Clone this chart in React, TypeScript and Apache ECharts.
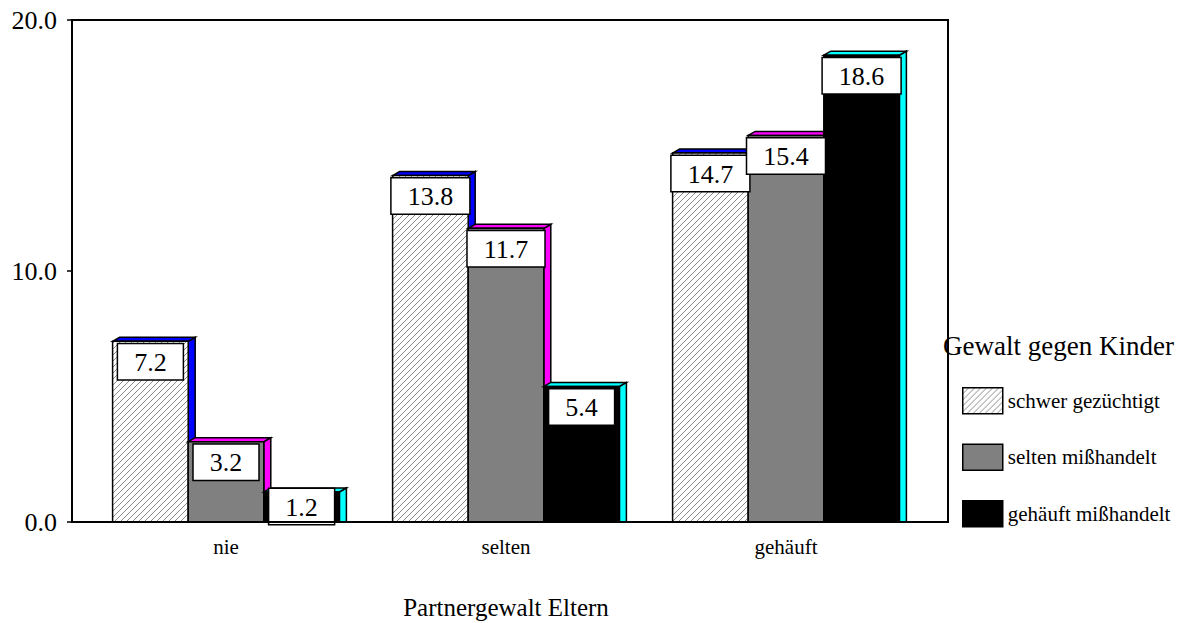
import React, { useEffect, useRef } from "react";
import * as echarts from "echarts";

const categories = ["nie", "selten", "gehäuft"];
const seriesNames = ["schwer gezüchtigt", "selten mißhandelt", "gehäuft mißhandelt"];
const schwerGezuechtigt = [7.2, 13.8, 14.7];
const seltenMisshandelt = [3.2, 11.7, 15.4];
const gehaeuftMisshandelt = [1.2, 5.4, 18.6];
const yTicks = [0, 10, 20];

const FONT = "Liberation Serif, serif";

function makeHatch(): HTMLCanvasElement {
  const c = document.createElement("canvas");
  c.width = 6;
  c.height = 6;
  const ctx = c.getContext("2d")!;
  ctx.fillStyle = "#ffffff";
  ctx.fillRect(0, 0, 6, 6);
  ctx.strokeStyle = "#8a8a8a";
  ctx.lineWidth = 1;
  ctx.beginPath();
  ctx.moveTo(-1, 7);
  ctx.lineTo(7, -1);
  ctx.moveTo(-1, 1);
  ctx.lineTo(1, -1);
  ctx.moveTo(5, 7);
  ctx.lineTo(7, 5);
  ctx.stroke();
  return c;
}

export default function App() {
  const ref = useRef<HTMLDivElement>(null);

  useEffect(() => {
    if (!ref.current) return;
    const chart = echarts.init(ref.current, undefined, { renderer: "svg" });
    const hatch = { image: makeHatch(), repeat: "repeat" } as any;

    const fronts: any[] = [hatch, "#808080", "#000000"];
    const sides = ["#0000ff", "#ff00ff", "#00ffff"];
    const values = [schwerGezuechtigt, seltenMisshandelt, gehaeuftMisshandelt];
    const dx = 7;
    const dy = 4;

    const makeRender = (si: number) => (params: any, api: any) => {
      const cat = api.value(0);
      const val = api.value(1);
      const base = api.coord([cat, 0]);
      const top = api.coord([cat, val]);
      const band = api.size([1, 0])[0];
      const bw = band * 0.27;
      const x0 = base[0] - 1.5 * bw + si * bw;
      const x1 = x0 + bw;
      const yT = top[1];
      const yB = base[1];
      const labelTop = Math.min(yT + 3, yB - 33);
      return {
        type: "group",
        children: [
          {
            type: "polygon",
            shape: { points: [[x1, yT], [x1 + dx, yT - dy], [x1 + dx, yB], [x1, yB]] },
            style: { fill: sides[si], stroke: "#000", lineWidth: 1.5 },
          },
          {
            type: "polygon",
            shape: { points: [[x0, yT], [x0 + dx, yT - dy], [x1 + dx, yT - dy], [x1, yT]] },
            style: { fill: sides[si], stroke: "#000", lineWidth: 1.5 },
          },
          {
            type: "rect",
            shape: { x: x0, y: yT, width: bw, height: yB - yT },
            style: { fill: fronts[si], stroke: "#000", lineWidth: 1.5 },
          },
          {
            type: "text",
            z2: 100,
            x: (x0 + x1) / 2,
            y: labelTop,
            style: {
              text: val.toFixed(1),
              fontSize: 26,
              fontFamily: FONT,
              fill: "#000",
              align: "center",
              verticalAlign: "top",
              backgroundColor: "#fff",
              borderColor: "#000",
              borderWidth: 1.5,
              padding: [5, 16, 4, 16],
            },
          },
        ],
      };
    };

    chart.setOption({
      animation: false,
      grid: { left: 86, right: 274, top: 20, bottom: 101, outerBoundsMode: "none", containLabel: false },
      xAxis: {
        type: "category",
        data: categories,
        axisLine: { show: false },
        axisTick: { show: false },
        axisLabel: { fontSize: 21, fontFamily: FONT, color: "#000", margin: 14 },
        name: "Partnergewalt Eltern",
        nameLocation: "middle",
        nameGap: 73,
        nameTextStyle: { fontSize: 25, fontFamily: FONT, color: "#000" },
      },
      yAxis: {
        type: "value",
        min: yTicks[0],
        max: yTicks[yTicks.length - 1],
        interval: yTicks[1] - yTicks[0],
        offset: 14,
        axisLine: { show: true, lineStyle: { color: "#000", width: 2 } },
        axisTick: { show: true, length: 5, lineStyle: { color: "#000", width: 1.5 } },
        splitLine: { show: false },
        axisLabel: {
          fontSize: 26,
          fontFamily: FONT,
          color: "#000",
          margin: 15,
          formatter: (v: number) => v.toFixed(1),
        },
      },
      legend: {
        orient: "vertical",
        left: 962,
        top: 387,
        itemWidth: 40,
        itemHeight: 26,
        itemGap: 29,
        icon: "rect",
        padding: 0,
        textStyle: { fontSize: 21, fontFamily: FONT, color: "#000" },
        data: seriesNames.map((n, i) => ({
          name: n,
          itemStyle: { color: fronts[i], borderColor: "#000", borderWidth: 1.5 },
        })),
      },
      graphic: [
        {
          type: "rect",
          z: 100,
          silent: true,
          shape: { x: 72, y: 20, width: 876, height: 502 },
          style: { fill: "none", stroke: "#000", lineWidth: 2 },
        },
        {
          type: "text",
          left: 943,
          top: 332,
          style: { text: "Gewalt gegen Kinder", fontSize: 27, fontFamily: FONT, fill: "#000" },
        },
      ],
      series: values.map((vals, si) => ({
        type: "custom",
        name: seriesNames[si],
        itemStyle: { color: fronts[si] },
        renderItem: makeRender(si),
        encode: { x: 0, y: 1 },
        data: vals.map((v, ci) => [ci, v]),
        silent: true,
      })),
    });

    return () => chart.dispose();
  }, []);

  return (
    <div
      ref={ref}
      style={{ position: "fixed", left: 0, top: 0, width: 1200, height: 623, background: "#fff" }}
    />
  );
}
